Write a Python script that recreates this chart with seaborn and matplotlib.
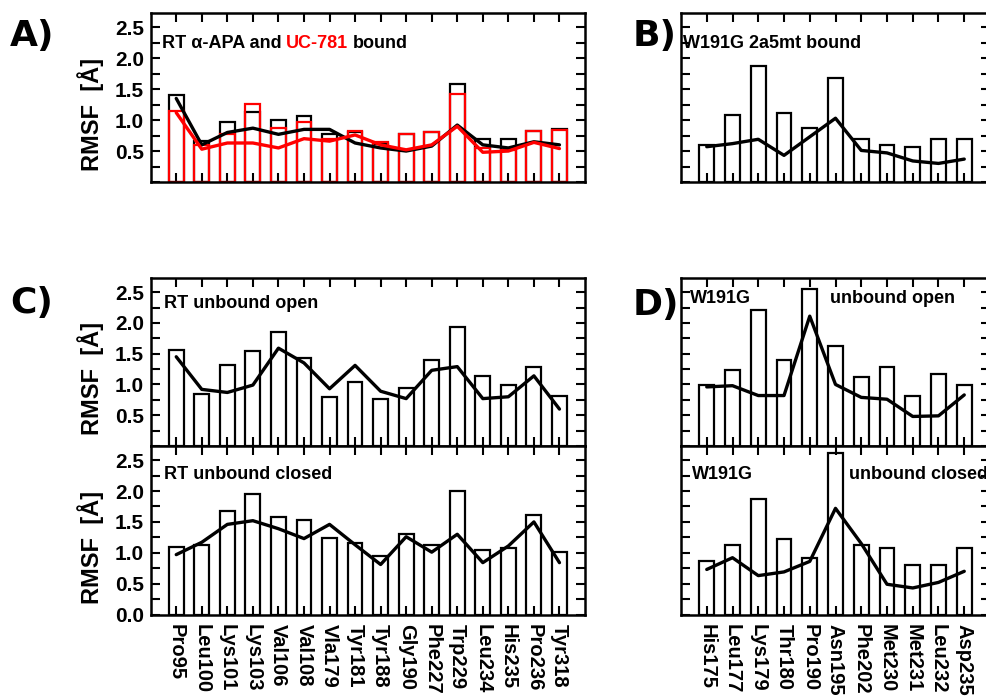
import numpy as np
import matplotlib
matplotlib.use("Agg")
import matplotlib.pyplot as plt
from matplotlib.ticker import MultipleLocator
import seaborn as sns

# residues
rt_res = ["Pro95", "Leu100", "Lys101", "Lys103", "Val106", "Val108", "Vla179", "Tyr181",
          "Tyr188", "Gly190", "Phe227", "Trp229", "Leu234", "His235", "Pro236", "Tyr318"]
mut_res = ["His175", "Leu177", "Lys179", "Thr180", "Pro190", "Asn195", "Phe202",
           "Met230", "Met231", "Leu232", "Asp235"]

# A) RT alpha-APA bound (black) and UC-781 bound (red)
apa_bar = [1.40, 0.66, 0.97, 1.13, 1.00, 1.06, 0.78, 0.80, 0.62, 0.78, 0.80, 1.59, 0.69, 0.70, 0.82, 0.85]
apa_line = [1.35, 0.60, 0.80, 0.87, 0.77, 0.85, 0.85, 0.63, 0.55, 0.50, 0.58, 0.92, 0.60, 0.55, 0.65, 0.60]
uc_bar = [1.15, 0.60, 0.77, 1.26, 0.88, 0.97, 0.69, 0.83, 0.65, 0.78, 0.80, 1.42, 0.55, 0.52, 0.82, 0.84]
uc_line = [1.12, 0.53, 0.63, 0.63, 0.55, 0.70, 0.66, 0.76, 0.60, 0.52, 0.60, 0.90, 0.48, 0.50, 0.64, 0.54]

# B) W191G 2a5mt bound
w2a5_bar = [0.59, 1.09, 1.88, 1.12, 0.88, 1.68, 0.69, 0.59, 0.56, 0.69, 0.69]
w2a5_line = [0.57, 0.62, 0.69, 0.43, 0.73, 1.03, 0.51, 0.47, 0.34, 0.30, 0.37]

# C) RT unbound open / closed
rt_open_bar = [1.56, 0.84, 1.32, 1.54, 1.86, 1.43, 0.79, 1.04, 0.76, 0.95, 1.39, 1.93, 1.13, 0.99, 1.28, 0.82]
rt_open_line = [1.45, 0.92, 0.87, 0.99, 1.59, 1.35, 0.93, 1.31, 0.89, 0.77, 1.23, 1.29, 0.77, 0.80, 1.14, 0.60]
rt_closed_bar = [1.09, 1.13, 1.68, 1.96, 1.58, 1.53, 1.24, 1.16, 0.94, 1.30, 1.13, 2.00, 1.04, 1.08, 1.61, 1.01]
rt_closed_line = [0.97, 1.17, 1.46, 1.52, 1.39, 1.23, 1.46, 1.13, 0.81, 1.26, 1.01, 1.30, 0.84, 1.11, 1.50, 0.84]

# D) W191G unbound open / closed
w_open_bar = [0.99, 1.23, 2.21, 1.39, 2.55, 1.62, 1.12, 1.28, 0.82, 1.17, 0.99]
w_open_line = [0.96, 0.98, 0.82, 0.82, 2.11, 1.00, 0.79, 0.76, 0.48, 0.49, 0.83]
w_closed_bar = [0.87, 1.12, 1.87, 1.23, 0.92, 2.62, 1.12, 1.08, 0.80, 0.80, 1.08]
w_closed_line = [0.73, 0.92, 0.63, 0.69, 0.86, 1.72, 1.15, 0.49, 0.43, 0.52, 0.70]

sns.set_style("ticks")
plt.rcParams['font.family'] = ['Liberation Sans', 'DejaVu Sans']
plt.rcParams['font.weight'] = 'bold'
plt.rcParams['axes.linewidth'] = 1.8
for k in ['text.color', 'axes.labelcolor', 'xtick.color', 'ytick.color', 'axes.edgecolor']:
    plt.rcParams[k] = 'black'

W, H = 986, 696
fig = plt.figure(figsize=(W / 100, H / 100), dpi=100)


def px_axes(l, t, r, b):
    return fig.add_axes([l / W, 1 - b / H, (r - l) / W, (b - t) / H])


def draw(ax, labels, bars, line, color="black"):
    sns.barplot(x=labels, y=bars, ax=ax, fill=False, color=color, width=0.58, linewidth=1.6)
    sns.lineplot(x=np.arange(len(line)), y=line, ax=ax, color=color, linewidth=2.4)


def style(ax, n, ylabels=True, xlabels=None, zero=False):
    ax.set_xlim(-1, n)
    ax.set_ylim(0, 2.73)
    ax.set_xticks(range(n))
    if zero:
        ax.set_yticks([0.0, 0.5, 1.0, 1.5, 2.0, 2.5])
    else:
        ax.set_yticks([0.5, 1.0, 1.5, 2.0, 2.5])
    ax.yaxis.set_minor_locator(MultipleLocator(0.25))
    ax.set_yticklabels(["%.1f" % v for v in ax.get_yticks()])
    ax.tick_params(axis='both', which='both', direction='in', top=True, right=True,
                   length=6.5, width=1.5, labelsize=15, pad=5)
    ax.tick_params(axis='y', labelleft=ylabels)
    if xlabels is None:
        ax.tick_params(axis='x', labelbottom=False)
        ax.set_xlabel("")
    else:
        ax.set_xticklabels(xlabels, rotation=-90, fontsize=14.5, fontweight='bold', va='top')
        ax.set_xlabel("")
        ax.tick_params(axis='x', pad=7)
    if ylabels:
        ax.set_ylabel("RMSF  [Å]", fontsize=17, fontweight='bold')
        ax.yaxis.set_label_coords(-0.108, 0.4)
    else:
        ax.set_ylabel("")
    for s in ax.spines.values():
        s.set_visible(True)
        s.set_linewidth(1.8)
        s.set_color('black')


def note(ax, x, y, s, **kw):
    return ax.text(x, y, s, transform=ax.transAxes, ha='left', va='center',
                   fontsize=13, fontweight='bold', zorder=5, **kw)


# A
axA = px_axes(150.7, 13, 585, 182)
draw(axA, rt_res, apa_bar, apa_line, "black")
draw(axA, rt_res, uc_bar, uc_line, "red")
style(axA, len(rt_res))
t1 = note(axA, 0.025, 0.82, "RT α-APA and")
t2 = axA.annotate("UC-781", xy=(1, 0), xycoords=t1, xytext=(3.6, 0), textcoords='offset points',
                  va='bottom', ha='left', fontsize=13, fontweight='bold', color='red')
t3 = axA.annotate("bound", xy=(1, 0), xycoords=t2, xytext=(3.6, 0), textcoords='offset points',
                  va='bottom', ha='left', fontsize=13, fontweight='bold', color='black')

# B
axB = px_axes(681, 13, 990, 182)
draw(axB, mut_res, w2a5_bar, w2a5_line)
style(axB, len(mut_res), ylabels=False)
note(axB, 0.006, 0.822, "W191G 2a5mt bound")

# C upper / lower
axC1 = px_axes(150.7, 278, 585, 446)
draw(axC1, rt_res, rt_open_bar, rt_open_line)
style(axC1, len(rt_res))
note(axC1, 0.03, 0.851, "RT unbound open")

axC2 = px_axes(150.7, 446, 585, 614.5)
draw(axC2, rt_res, rt_closed_bar, rt_closed_line)
style(axC2, len(rt_res), xlabels=rt_res, zero=True)
note(axC2, 0.03, 0.828, "RT unbound closed")

# D upper / lower
axD1 = px_axes(681, 278, 990, 446)
draw(axD1, mut_res, w_open_bar, w_open_line)
style(axD1, len(mut_res), ylabels=False)
note(axD1, 0.029, 0.88, "W191G")
note(axD1, 0.482, 0.88, "unbound open")

axD2 = px_axes(681, 446, 990, 614.5)
draw(axD2, mut_res, w_closed_bar, w_closed_line)
style(axD2, len(mut_res), ylabels=False, xlabels=mut_res)
note(axD2, 0.035, 0.828, "W191G")
note(axD2, 0.543, 0.828, "unbound closed")

# panel letters
for lbl, x, y in [("A)", 10, 46), ("B)", 633, 46), ("C)", 10, 313), ("D)", 633, 315)]:
    fig.text(x / W, 1 - y / H, lbl, fontsize=26, fontweight='bold', ha='left', va='baseline',
             family='DejaVu Sans')

fig.savefig("out.png", dpi=100)
